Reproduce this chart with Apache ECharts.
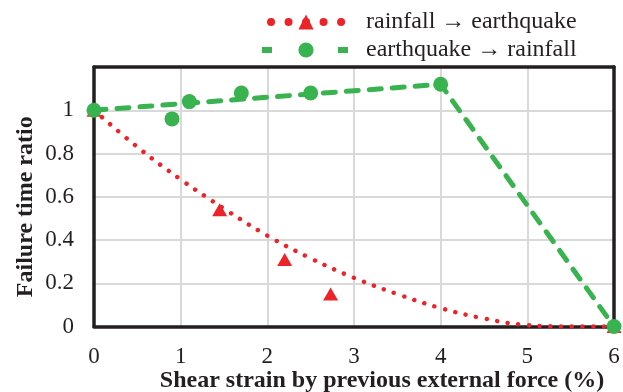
<!DOCTYPE html>
<html>
<head>
<meta charset="utf-8">
<script src="https://cdn.jsdelivr.net/npm/echarts@6/dist/echarts.min.js"></script>
<style>html,body{margin:0;padding:0;background:#fff}#c{width:623px;height:392px}</style>
</head>
<body>
<div id="c"></div>
<script>
// Data
var seriesNames = ['rainfall \u2192 earthquake', 'earthquake \u2192 rainfall'];
// red: measured points (triangles)
var redPoints = [[0, 1], [1.45, 0.54], [2.2, 0.31], [2.73, 0.15], [6, 0]];
// red: dotted trend curve
var redCurve = [[0, 1], [0.5, 0.83], [1, 0.68], [1.5, 0.545], [2, 0.42], [2.5, 0.315],
                [3, 0.225], [3.5, 0.15], [4, 0.085], [4.5, 0.037], [5, 0.006], [5.5, 0], [6, 0]];
// green: dashed line through points
var greenLine = [[0, 1], [4, 1.12], [6, 0]];
// green: other measured points (circles)
var greenPoints = [[0.9, 0.96], [1.1, 1.04], [1.7, 1.08], [2.5, 1.08]];
var yTicks = [0, 0.2, 0.4, 0.6, 0.8, 1];
var xTicks = [0, 1, 2, 3, 4, 5, 6];

var RED = '#ec2328';
var GREEN = '#38b34f';
var INK = '#231f20';
var FONT = '"Liberation Serif", "DejaVu Serif", serif';

var chart = echarts.init(document.getElementById('c'));
chart.setOption({
  animation: false,
  backgroundColor: '#fff',
  grid: {left: 94, right: 9, top: 67, bottom: 65.5, containLabel: false, outerBoundsMode: 'none'},
  legend: {
    orient: 'vertical', left: 253, top: 5, itemGap: 4,
    itemWidth: 88, itemHeight: 19,
    data: [
      {name: seriesNames[0], lineStyle: {width: 8, type: [0.01, 17.5], cap: 'round', dashOffset: 8.5}},
      {name: seriesNames[1], lineStyle: {width: 6, type: [10, 66], cap: 'butt', dashOffset: 0}}
    ],
    textStyle: {fontFamily: FONT, fontSize: 24, color: INK, padding: [0, 0, 0, 11]}
  },
  xAxis: [{
    type: 'value', min: 0, max: 6, interval: 1,
    name: 'Shear strain by previous external force (%)',
    nameLocation: 'middle', nameGap: 42, nameMoveOverlap: false,
    nameTextStyle: {fontFamily: FONT, fontSize: 24, fontWeight: 'bold', color: INK, padding: [0, 0, 0, 56]},
    axisLine: {show: true, lineStyle: {color: INK, width: 3.5}},
    axisTick: {show: false},
    axisLabel: {fontFamily: FONT, fontSize: 23, color: INK, margin: 19,
      formatter: function (v) { return xTicks.indexOf(v) >= 0 ? String(v) : ''; }},
    splitLine: {show: true, lineStyle: {color: '#d9d9d9', width: 2}},
    z: 1
  }, {
    type: 'value', min: 0, max: 6, position: 'top',
    axisLine: {show: true, onZero: false, lineStyle: {color: INK, width: 3.5}},
    axisTick: {show: false}, axisLabel: {show: false}, splitLine: {show: false}, z: 1
  }],
  yAxis: [{
    type: 'value', min: 0, max: 1.2, interval: 0.2,
    name: 'Failure time ratio',
    nameLocation: 'middle', nameGap: 56, nameMoveOverlap: false,
    nameTextStyle: {fontFamily: FONT, fontSize: 24, fontWeight: 'bold', color: INK, padding: [0, 20, 0, 0]},
    axisLine: {show: true, lineStyle: {color: INK, width: 3.5}},
    axisTick: {show: false},
    axisLabel: {fontFamily: FONT, fontSize: 23, color: INK, margin: 20,
      formatter: function (v) {
        var r = Math.round(v * 10) / 10;
        return yTicks.indexOf(r) >= 0 ? String(r) : '';
      }},
    splitLine: {show: true, lineStyle: {color: '#d9d9d9', width: 2}},
    z: 1
  }, {
    type: 'value', min: 0, max: 1.2, position: 'right',
    axisLine: {show: true, onZero: false, lineStyle: {color: INK, width: 3.5}},
    axisTick: {show: false}, axisLabel: {show: false}, splitLine: {show: false}, z: 1
  }],
  series: [
    {
      name: seriesNames[0], type: 'line', smooth: 0.4,
      symbol: 'triangle', symbolSize: 15,
      data: redCurve.map(function (p) { return {value: p, symbol: 'none'}; }),
      itemStyle: {color: RED},
      lineStyle: {color: RED, width: 4.5, type: [0.01, 10.7], cap: 'round'},
      clip: false, z: 2
    },
    {
      name: seriesNames[0], type: 'scatter', symbol: 'triangle', symbolSize: [15, 13],
      data: redPoints, itemStyle: {color: RED, opacity: 1}, clip: false, z: 3
    },
    {
      name: seriesNames[1], type: 'line', symbol: 'circle', symbolSize: 15, showSymbol: true,
      data: greenLine,
      itemStyle: {color: GREEN, borderWidth: 0},
      lineStyle: {color: GREEN, width: 5, type: [12, 11], cap: 'round'},
      clip: false, z: 4
    },
    {
      name: seriesNames[1], type: 'scatter', symbol: 'circle', symbolSize: 15,
      data: greenPoints, itemStyle: {color: GREEN, opacity: 1}, clip: false, z: 5
    }
  ]
});
</script>
</body>
</html>
